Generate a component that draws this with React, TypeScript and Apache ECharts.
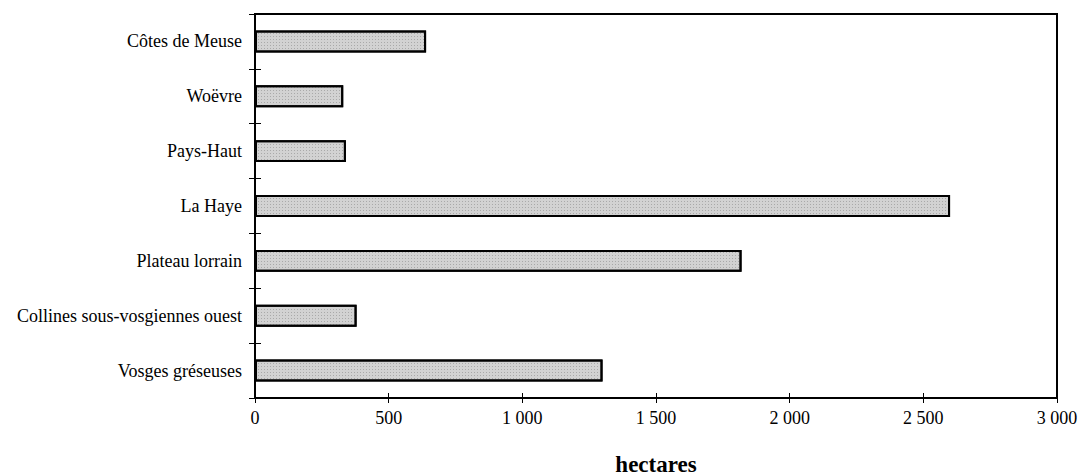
import React, { useEffect, useRef } from "react";
import * as echarts from "echarts";

const categories = [
  "Côtes de Meuse",
  "Woëvre",
  "Pays-Haut",
  "La Haye",
  "Plateau lorrain",
  "Collines sous-vosgiennes ouest",
  "Vosges gréseuses",
];
const hectares = [640, 330, 340, 2600, 1820, 380, 1300];
const xTicks = [0, 500, 1000, 1500, 2000, 2500, 3000];
const axisTitle = "hectares";

const fmt = (v: number) =>
  v >= 1000 ? `${Math.floor(v / 1000)} ${String(v % 1000).padStart(3, "0")}` : String(v);

export default function App() {
  const ref = useRef<HTMLDivElement>(null);
  useEffect(() => {
    if (!ref.current) return;
    const chart = echarts.init(ref.current, null, { renderer: "svg" });
    const font = "Liberation Serif";
    chart.setOption({
      animation: false,
      backgroundColor: "#ffffff",
      textStyle: { fontFamily: font, color: "#000" },
      grid: {
        left: 255,
        right: 22,
        top: 14,
        bottom: 78,
        outerBoundsMode: "none",
        containLabel: false,
        show: true,
        borderColor: "#000",
        borderWidth: 2,
        backgroundColor: "transparent",
      },
      xAxis: [
        {
          type: "value",
          min: xTicks[0],
          max: xTicks[xTicks.length - 1],
          interval: 500,
          position: "bottom",
          name: axisTitle,
          nameLocation: "middle",
          nameGap: 55,
          nameTextStyle: { fontFamily: font, fontSize: 23, fontWeight: "bold", color: "#000" },
          axisLine: { show: true, lineStyle: { color: "#000", width: 2 } },
          axisTick: { show: true, inside: false, length: 5, lineStyle: { color: "#000", width: 1 } },
          axisLabel: { fontFamily: font, fontSize: 18, color: "#000", margin: 11, formatter: fmt },
          splitLine: { show: false },
        },
        {
          type: "value",
          min: xTicks[0],
          max: xTicks[xTicks.length - 1],
          interval: 500,
          position: "bottom",
          axisLine: { show: false },
          axisTick: { show: true, inside: true, length: 5, lineStyle: { color: "#000", width: 1 } },
          axisLabel: { show: false },
          splitLine: { show: false },
        },
      ],
      yAxis: [
        {
          type: "category",
          data: categories,
          inverse: true,
          position: "left",
          axisLine: { show: true, lineStyle: { color: "#000", width: 2 } },
          axisTick: { show: true, inside: false, length: 6, lineStyle: { color: "#000", width: 1 } },
          axisLabel: { fontFamily: font, fontSize: 18, color: "#000", margin: 13 },
        },
        {
          type: "category",
          data: categories,
          inverse: true,
          position: "left",
          axisLine: { show: false },
          axisTick: { show: true, inside: true, length: 6, lineStyle: { color: "#000", width: 1 } },
          axisLabel: { show: false },
        },
      ],
      series: [
        {
          type: "bar",
          data: hectares,
          xAxisIndex: 0,
          yAxisIndex: 0,
          barWidth: "40%",
          itemStyle: {
            color: "#d2d2d2",
            borderColor: "#000",
            borderWidth: 2,
            decal: {
              symbol: "rect",
              symbolSize: 1,
              dashArrayX: [1, 2],
              dashArrayY: [1, 2],
              color: "rgba(90,90,90,0.35)",
            },
          },
        },
      ],
    });
    return () => chart.dispose();
  }, []);
  return (
    <div
      ref={ref}
      style={{ position: "fixed", left: 0, top: 0, width: 1079, height: 476, background: "#fff" }}
    />
  );
}
